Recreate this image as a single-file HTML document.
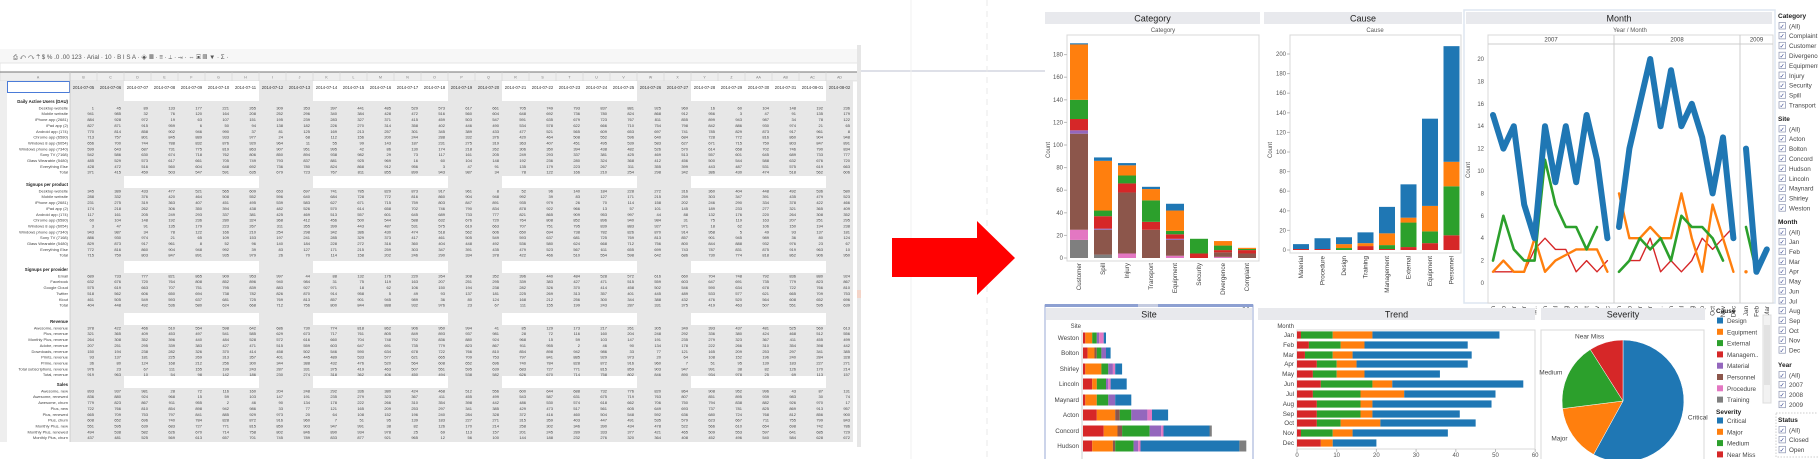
<!DOCTYPE html>
<html><head><meta charset="utf-8">
<style>
html,body{margin:0;padding:0;background:#fff;}
svg{display:block;font-family:"Liberation Sans",Arial,sans-serif;}
</style></head>
<body>
<svg id="root" xmlns="http://www.w3.org/2000/svg" width="1818" height="459" viewBox="0 0 1818 459">
<g id="sheet"></g>
<g id="deco">
  <line x1="861" y1="71" x2="1045" y2="71" stroke="#d4d6e0" stroke-width="1.5"/>
  <line x1="911" y1="0" x2="911" y2="459" stroke="#f0f0f0"/>
  <line x1="987" y1="0" x2="987" y2="459" stroke="#e8e8e8" stroke-dasharray="6,5"/>
  <polygon points="892,238 977,238 977,221 1015,258 977,295 977,277 892,277" fill="#ff0000"/>
</g>
<g id="dash"></g>
</svg>
<script>
// ---------- chart data ----------
const catNames = ["Customer","Spill","Injury","Transport","Equipment","Security","Divergence","Complaint"];
const catGray   = [16,3,0,0,0,0,0,0];
const catPink   = [9,0,4,0,2,0,1,0];
const catBrown  = [85,22,54,25,14,0,4,4];
const catPurple = [3,1,0,0,1,0,0,0];
const catRed    = [10,11,8,7,4,4,2,3];
const catGreen  = [17,5,7,19,3,13,4,1];
const catOrange = [49,44,9,10,18,0,4,1];
const catBlue   = [1,3,2,2,6,0,0,0];
const catTicks  = [0,20,40,60,80,100,120,140,160,180];

const causeNames  = ["Material","Procedure","Design","Training","Management","External","Equipment","Personnel"];
const causeRed    = [1,1,0,4,1,3,7,15];
const causeGreen  = [0,0,2,0,4,25,12,50];
const causeOrange = [0,0,4,3,12,5,26,25];
const causeBlue   = [5,11,7,11,27,34,89,118];
const causeTicks  = [0,20,40,60,80,100,120,140,160,180,200];

const years = ["2007","2008","2009"];
const monthAbbr = ["Jan","Feb","Mar","Apr","May","Jun","Jul","Aug","Sep","Oct","Nov","Dec"];
const monthLbl = ["Jan","Feb","Mar","Apr","M..","Jun","Jul","Aug","Sep","Oct","Nov","Dec"];
const blueLine   = [[15,12,14,7,4,14,9,14,9,15,11,4],[5,12,16,20,14,19,14,16,13,8,13,4],[12,1,3]];
const greenLine  = [[2,6,3,2,2,11,7,5,5,3,5,null],[1,2,4,3,4,2,6,5,5,4,2,null],[5,1,null]];
const orangeLine = [[1,2,1,1,4,1,2,2.5,3,3,3,1],[8,4,4,5,4,4,8,4,1,7,4,1],[1,null,null]];
const redLine    = [[1,1,1,1,3,4,3,3,1,2,1,2],[null,2,2,4,1,2,1,2,4,3,4,5],[null,null,null]];
const monthTicks = [0,2,4,6,8,10,12,14,16,18,20];

const siteNames  = ["Weston","Bolton","Shirley","Lincoln","Maynard","Acton","Concord","Hudson"];
const siteRed    = [1,2,1,4,1,6,9,4];
const siteOrange = [3,3,7,2,5,8,6,9];
const siteBrown  = [0,1,0,0,0,2,2,1];
const siteGreen  = [2,2,3,4,5,5,12,8];
const sitePurple = [1,2,2,1,3,7,5,2];
const sitePink   = [2,0,1,1,0,2,1,1];
const siteBlue   = [1,2,3,7,7,7,20,43];
const siteGrayV  = [0,0,0,0,0,0,1,3];

const trendRed    = [1,3,2,5,4,6,4,5,5,5,1,6];
const trendGreen  = [8,8,7,5,6,13,12,11,11,6,8,0];
const trendOrange = [10,6,5,5,7,5,11,3,3,10,5,3];
const trendBlue   = [32,26,30,28,19,33,23,30,22,24,24,11];
const trendTicks  = [0,10,20,30,40,50,60];

const sevNames  = ["Critical","Major","Medium","Near Miss"];
const sevValues = [58,15,18,9];

const C = {blue:"#1f77b4",orange:"#ff7f0e",green:"#2ca02c",red:"#d62728",purple:"#9467bd",brown:"#8c564b",pink:"#e377c2",gray:"#7f7f7f"};
const NS = "http://www.w3.org/2000/svg";
function mk(tag, parent, attrs){const e=document.createElementNS(NS,tag);for(const k in attrs)e.setAttribute(k,attrs[k]);parent.appendChild(e);return e;}
function txt(parent,x,y,s,size,fill,anchor,extra){const t=mk("text",parent,Object.assign({x:x,y:y,"font-size":size,fill:fill||"#333","text-anchor":anchor||"start"},extra||{}));t.textContent=s;return t;}
const dash=document.getElementById("dash");

function panelHeader(x,w,y,label,name){
  const g=mk("g",dash,{});
  
  
  mk("rect",g,{x:x,y:y,width:w,height:12,fill:"#e8e9ed"});
  txt(g,x+w/2,y+9.5,label,9,"#222","middle");
  return g;
}

// ---------- Category chart ----------
(function(){
  panelHeader(1045,215,12,"Category","category-header");
  const g=mk("g",dash,{});
  
  
  txt(g,1163,32,"Category",6,"#555","middle");
  mk("rect",g,{x:1067,y:35,width:192,height:226,fill:"#fff",stroke:"#d8d8d8"});
  const y0=258, k=1.13; const cy=v=>y0-v*k;
  const t=mk("text",g,{x:1050,y:150,"font-size":6,fill:"#555","text-anchor":"middle",transform:"rotate(-90 1050 150)"});t.textContent="Count";
  catTicks.forEach(v=>{txt(g,1063,cy(v)+2,String(v),6,"#555","end");mk("line",g,{x1:1064,x2:1067,y1:cy(v),y2:cy(v),stroke:"#bbb"});});
  const series=[[catGray,C.gray],[catPink,C.pink],[catBrown,C.brown],[catPurple,C.purple],[catRed,C.red],[catGreen,C.green],[catOrange,C.orange],[catBlue,C.blue]];
  catNames.forEach((n,i)=>{
    const x=1070+i*24; let acc=0;
    series.forEach(([arr,col])=>{
      const v=arr[i]; if(!v)return;
      const r=mk("rect",g,{x:x,y:cy(acc+v),width:18,height:v*k,fill:col});
      
      
      acc+=v;
    });
    const lx=x+11, ly=263;
    const l=mk("text",g,{x:lx,y:ly,"font-size":6.3,fill:"#444","text-anchor":"end",transform:`rotate(-90 ${lx} ${ly})`});l.textContent=n;
    
    
  });
})();

// ---------- Cause chart ----------
(function(){
  panelHeader(1264,198,12,"Cause","cause-header");
  const g=mk("g",dash,{});
  
  
  txt(g,1375,32,"Cause",6,"#555","middle");
  mk("rect",g,{x:1290,y:35,width:171,height:218,fill:"#fff",stroke:"#d8d8d8"});
  const y0=250,k=0.98; const cy=v=>y0-v*k;
  const t=mk("text",g,{x:1272,y:150,"font-size":6,fill:"#555","text-anchor":"middle",transform:"rotate(-90 1272 150)"});t.textContent="Count";
  causeTicks.forEach(v=>{txt(g,1286,cy(v)+2,String(v),6,"#555","end");mk("line",g,{x1:1287,x2:1290,y1:cy(v),y2:cy(v),stroke:"#bbb"});});
  const series=[[causeRed,C.red],[causeGreen,C.green],[causeOrange,C.orange],[causeBlue,C.blue]];
  causeNames.forEach((n,i)=>{
    const x=1293+i*21.5; let acc=0;
    series.forEach(([arr,col])=>{
      const v=arr[i]; if(!v)return;
      const r=mk("rect",g,{x:x,y:cy(acc+v),width:16,height:v*k,fill:col});
      
      
      acc+=v;
    });
    const lx=x+10, ly=256;
    const l=mk("text",g,{x:lx,y:ly,"font-size":6.3,fill:"#444","text-anchor":"end",transform:`rotate(-90 ${lx} ${ly})`});l.textContent=n;
    
    
  });
})();

// ---------- Month line chart ----------
(function(){
  const g=mk("g",dash,{});
  
  
  mk("rect",g,{x:1464,y:10,width:311,height:293,fill:"none",stroke:"#dde6f0","stroke-width":1.5});
  panelHeader(1466,306,12,"Month","month-header");
  txt(g,1630,32,"Year  /  Month",6,"#555","middle");
  mk("rect",g,{x:1488,y:35,width:285,height:248+20,fill:"#fff",stroke:"#d8d8d8"});
  mk("line",g,{x1:1488,x2:1773,y1:44,y2:44,stroke:"#ccc"});
  const ystarts=[1488,1614,1740], yends=[1614,1740,1773], jan=[1493,1619,1746], step=10.4;
  years.forEach((y,i)=>{
    if(i>0)mk("line",g,{x1:ystarts[i],x2:ystarts[i],y1:35,y2:303,stroke:"#ccc"});
    const yl=txt(g,(ystarts[i]+yends[i])/2,41.5,y,6,"#444","middle");
    
    
  });
  const my=v=>283-v*11.2, mx=(yi,m)=>jan[yi]+m*step;
  const t=mk("text",g,{x:1470,y:170,"font-size":6,fill:"#555","text-anchor":"middle",transform:"rotate(-90 1470 170)"});t.textContent="Count";
  monthTicks.forEach(v=>{txt(g,1484,my(v)+2,String(v),6,"#555","end");});
  years.forEach((y,yi)=>{
    const n=yi<2?12:3;
    for(let m=0;m<n;m++){
      const lx=mx(yi,m)+2, ly=306;
      const l=mk("text",g,{x:lx,y:ly,"font-size":6.3,fill:"#444","text-anchor":"end",transform:`rotate(-90 ${lx} ${ly})`});l.textContent=monthLbl[m];
      
      
    }
  });
  const series=[[redLine,C.red,1.4],[orangeLine,C.orange,2.4],[greenLine,C.green,2.6],[blueLine,C.blue,6]];
  series.forEach(([data,col,w])=>{
    data.forEach((arr,yi)=>{
      let d="", pen=false;
      arr.forEach((v,m)=>{
        if(v===null||v===undefined){pen=false;return;}
        d+=(pen?"L":"M")+mx(yi,m).toFixed(1)+","+my(v).toFixed(1);pen=true;
      });
      if(!d)return;
      if(d.indexOf("L")<0){
        const c=mk("circle",g,{cx:mx(yi,arr.findIndex(v=>v!==null)),cy:my(arr.find(v=>v!==null)),r:w/2+0.5,fill:col});
        
        
        return;
      }
      const p=mk("path",g,{d:d,fill:"none",stroke:col,"stroke-width":w,"stroke-linejoin":"round","stroke-linecap":"round"});
      
      
    });
  });
  txt(g,1769,21,"⇱",6,"#99a","middle");
})();

// ---------- Site chart ----------
(function(){
  const g=mk("g",dash,{});
  
  
  mk("rect",g,{x:1045,y:305,width:208,height:160,fill:"#fff",stroke:"#9aaad6"});
  mk("rect",g,{x:1045,y:304,width:208,height:3,fill:"#8da0d2"});
  mk("rect",g,{x:1138,y:304,width:20,height:3,fill:"#c4cbe0"});
  txt(g,1246,310,"▾ ×",5,"#345","middle");
  panelHeader(1046,206,308,"Site","site-header");
  txt(g,1081,328,"Site",6,"#444","end");
  mk("line",g,{x1:1082,x2:1082,y1:330,y2:459,stroke:"#ccc"});
  const ys=[338,353,369,384,400,415,431,446], k=2.3, x0=1083;
  const series=[[siteRed,C.red],[siteOrange,C.orange],[siteBrown,C.brown],[siteGreen,C.green],[sitePurple,C.purple],[sitePink,C.pink],[siteBlue,C.blue],[siteGrayV,C.gray]];
  siteNames.forEach((n,i)=>{
    const l=txt(g,1079,ys[i]+2.2,n,6.3,"#444","end");
    
    
    let acc=0;
    series.forEach(([arr,col])=>{
      const v=arr[i]; if(!v)return;
      const r=mk("rect",g,{x:x0+acc*k,y:ys[i]-5.5,width:v*k,height:11,fill:col});
      
      
      acc+=v;
    });
  });
})();

// ---------- Trend chart ----------
(function(){
  panelHeader(1258,277,308,"Trend","trend-header");
  const g=mk("g",dash,{});
  
  
  mk("rect",g,{x:1297,y:330,width:238,height:119,fill:"#fff",stroke:"#d8d8d8"});
  txt(g,1294,328,"Month",6,"#444","end");
  const x0=1297,k=3.97, ys=[335,345,355,364,374,384,394,404,414,423,433,443];
  trendTicks.forEach(v=>{txt(g,x0+v*k,457,String(v),6,"#555","middle");mk("line",g,{x1:x0+v*k,x2:x0+v*k,y1:449,y2:452,stroke:"#bbb"});});
  const series=[[trendRed,C.red],[trendGreen,C.green],[trendOrange,C.orange],[trendBlue,C.blue]];
  monthAbbr.forEach((m,i)=>{
    const l=txt(g,1294,ys[i]+2.2,m,6.3,"#444","end");
    
    
    let acc=0;
    series.forEach(([arr,col])=>{
      const v=arr[i]; if(!v)return;
      const r=mk("rect",g,{x:x0+acc*k,y:ys[i]-3.6,width:v*k,height:7.2,fill:col});
      
      
      acc+=v;
    });
  });
})();

// ---------- Severity pie ----------
(function(){
  panelHeader(1541,164,308,"Severity","severity-header");
  const g=mk("g",dash,{});
  
  
  mk("rect",g,{x:1541,y:330,width:163,height:135,fill:"#fff",stroke:"#d8d8d8"});
  const cx=1623, cy=401, R=61, cols=[C.blue,C.orange,C.green,C.red];
  const tot=sevValues.reduce((a,b)=>a+b,0); let a0=0;
  sevValues.forEach((v,i)=>{
    const a1=a0+v/tot*2*Math.PI;
    const p=(a)=>[cx+R*Math.sin(a),cy-R*Math.cos(a)];
    const [x1,y1]=p(a0),[x2,y2]=p(a1);
    const s=mk("path",g,{d:`M${cx},${cy}L${x1.toFixed(1)},${y1.toFixed(1)}A${R},${R} 0 ${a1-a0>Math.PI?1:0} 1 ${x2.toFixed(1)},${y2.toFixed(1)}Z`,fill:cols[i],stroke:"#fff","stroke-width":0.5});
    
    
    const am=(a0+a1)/2, lx=cx+(R+6)*Math.sin(am), ly=cy-(R+6)*Math.cos(am);
    const l=txt(g,lx,ly+2,sevNames[i],6.5,"#444",Math.sin(am)>0?"start":"end");
    
    
    a0=a1;
  });
})();

// ---------- Legend ----------
(function(){
  const g=mk("g",dash,{});
  
  
  txt(g,1716,313,"Cause",6.5,"#222","start",{"font-weight":"bold"});
  const causeLeg=["Design","Equipment","External","Managem..","Material","Personnel","Procedure","Training"];
  const causeCol=[C.blue,C.orange,C.green,C.red,C.purple,C.brown,C.pink,C.gray];
  causeLeg.forEach((n,i)=>{
    const y=321+i*11.3;
    const it=mk("g",g,{});
    
    
    mk("rect",it,{x:1717,y:y-3.5,width:6,height:6,fill:causeCol[i]});
    txt(it,1727,y+2,n,6.3,"#444");
  });
  mk("rect",g,{x:1763,y:315,width:8,height:88,fill:"#f2f2f2",stroke:"#ddd"});
  mk("rect",g,{x:1764,y:325,width:6,height:60,fill:"#e2e2e2"});
  txt(g,1716,414,"Severity",6.5,"#222","start",{"font-weight":"bold"});
  const sevCol=[C.blue,C.orange,C.green,C.red];
  sevNames.forEach((n,i)=>{
    const y=421+i*11.3;
    const it=mk("g",g,{});
    
    
    mk("rect",it,{x:1717,y:y-3.5,width:6,height:6,fill:sevCol[i]});
    txt(it,1727,y+2,n,6.3,"#444");
  });
})();

// ---------- Filters ----------
(function(){
  const g=mk("g",dash,{});
  
  
  const groups=[
    ["Category",16,["(All)","Complaint","Customer","Divergence","Equipment","Injury","Security","Spill","Transport"],9.9],
    ["Site",119,["(All)","Acton","Bolton","Concord","Hudson","Lincoln","Maynard","Shirley","Weston"],9.9],
    ["Month",222,["(All)","Jan","Feb","Mar","Apr","May","Jun","Jul","Aug","Sep","Oct","Nov","Dec"],9.85],
    ["Year",365,["(All)","2007","2008","2009"],9.9],
    ["Status",420,["(All)","Closed","Open"],9.9]
  ];
  mk("rect",g,{x:1776,y:413,width:44,height:44,fill:"none",stroke:"#ccc","stroke-dasharray":"1.5,1.5"});
  groups.forEach(([h,y0,items,st])=>{
    txt(g,1778,y0+2,h,6.5,"#222","start",{"font-weight":"bold"});
    items.forEach((n,i)=>{
      const y=y0+10+i*st;
      const it=mk("g",g,{});
      
      
      mk("rect",it,{x:1779,y:y-3.5,width:6.5,height:6.5,fill:"#fff",stroke:"#8a93b0","stroke-width":0.7});
      txt(it,1782.2,y+2.3,"✓",6,"#2a3a8a","middle");
      txt(it,1789,y+2.3,n,6.3,"#444");
    });
  });
})();

// ---------- Spreadsheet ----------
const sheetSections = [
  ["Daily Active Users (DAU)",97,["Desktop website","Mobile website","iPhone app (2681)","iPad app (2)","Android app (174)","Chrome app (6580)","Windows 8 app (6054)","Windows phone app (7340)","Sony TV (7168)","Glass Wearable (5480)","Everything Else","Total"]],
  ["Signups per product",180,["Desktop website","Mobile website","iPhone app (2681)","iPad app (2)","Android app (174)","Chrome app (6580)","Windows 8 app (6054)","Windows phone app (7340)","Sony TV (7168)","Glass Wearable (5480)","Everything Else","Total"]],
  ["Signups per provider",265,["Email","Facebook","Google Cloud","Twitter","Klout","Total"]],
  ["Revenue",317,["Awesome, revenue","Plus, revenue","Monthly Plus, revenue","Adobe, revenue","Downloads, revenue","Prints, revenue","Prime, revenue","Total subscriptions, revenue","Total, revenue"]],
  ["Sales",380,["Awesome, new","Awesome, renewed","Awesome, churn","Plus, new","Plus, renewed","Plus, churn","Monthly Plus, new","Monthly Plus, renewed","Monthly Plus, churn"]]
];
(function(){
  const g=document.getElementById("sheet");
  const colW=27, x0=70, nCols=29, rowH=5.85;
  // toolbar
  const tb=mk("g",g,{});
  
  
  mk("rect",tb,{x:0,y:49,width:858,height:14,fill:"#f7f7f7"});
  mk("rect",tb,{x:0,y:63,width:858,height:9,fill:"#fff",stroke:"#e4e4e4"});
  txt(tb,13,59,"⎙ ↶ ↷ ⍑   $  %  .0  .00  123 ·   Arial   ·   10  ·   B  I  S  A   ·  ◈ ▦ ·  ≡ · ⊥ · ⇥ ·  ⇔ ▣ ▤ ▼ · Σ ·",6.2,"#555");
  // header row
  mk("rect",g,{x:0,y:72,width:858,height:9,fill:"#eeeeee",stroke:"#cfcfcf","stroke-width":0.5});
  mk("line",g,{x1:0,x2:858,y1:72,y2:72,stroke:"#555","stroke-width":0.8});
  const letters="ABCDEFGHIJKLMNOPQRSTUVWXYZ";
  const colName=i=>i<26?letters[i]:"A"+letters[i-26];
  txt(g,38,78.5,"A",3.5,"#777","middle");
  // data background
  const bottom=442;
  mk("rect",g,{x:0,y:81,width:7,height:bottom-81,fill:"#eeeeee"});
  mk("rect",g,{x:x0,y:93,width:colW*nCols,height:bottom-93,fill:"#e7e7e7"});
  mk("rect",g,{x:x0,y:81,width:colW*nCols,height:12,fill:"#fff"});
  // white bands for weekday columns in blank/header rows
  for(let c=0;c<nCols;c++){
    const d=(5+c)%7; // 2014-07-05 is Saturday -> weekday index
    const weekend=(c%7===0||c%7===1);
    const x=x0+c*colW;
    mk("line",g,{x1:x,x2:x,y1:72,y2:81,stroke:"#cfcfcf","stroke-width":0.5});
    txt(g,x+colW/2,78.5,colName(c+1),3.5,"#777","middle");
    const day=new Date(Date.UTC(2014,6,5+c));
    const ds=day.toISOString().slice(0,10);
    const dt=txt(g,x+colW/2,89,ds,4.2,"#333","middle");
    
    
    if(weekend){mk("rect",g,{x:x,y:81,width:colW,height:12,fill:"#e7e7e7"});txt(g,x+colW/2,89,ds,4.2,"#333","middle");continue;}
    sheetSections.forEach(([h,y0,rows])=>{
      mk("rect",g,{x:x,y:y0-4,width:colW,height:12-(y0===97?4:0)+ (y0===97?0:0),fill:"#fff"});
    });
  }
  mk("rect",g,{x:7,y:81,width:63,height:bottom-81,fill:"#fff"});
  mk("rect",g,{x:7.5,y:81.5,width:62,height:11,fill:"none",stroke:"#4a7bd8","stroke-width":1});
  mk("line",g,{x1:70,x2:70,y1:72,y2:bottom,stroke:"#bbb","stroke-width":0.6});
  let r=0;
  sheetSections.forEach(([h,y0,rows],si)=>{
    const ht=txt(g,68,y0+6,h,4.3,"#222","end",{"font-weight":"bold"});
    
    
    rows.forEach((name,ri)=>{
      const y=y0+8+ri*rowH+rowH*0.75;
      txt(g,68,y,name,4,"#444","end");
      let s="";
      for(let c=0;c<nCols;c++){
        const n=((r*7919+c*104729+si*31)%997)+1;
        const vt=txt(g,x0+c*colW+colW-3,y,String(n),4,"#444","end");
      }
      r++;
    });
  });
  mk("rect",g,{x:857,y:45,width:4,height:402,fill:"#e6e6e6"});
  mk("rect",g,{x:857,y:290,width:4,height:8,fill:"#f3d4c8"});
})();
</script>
</body></html>
